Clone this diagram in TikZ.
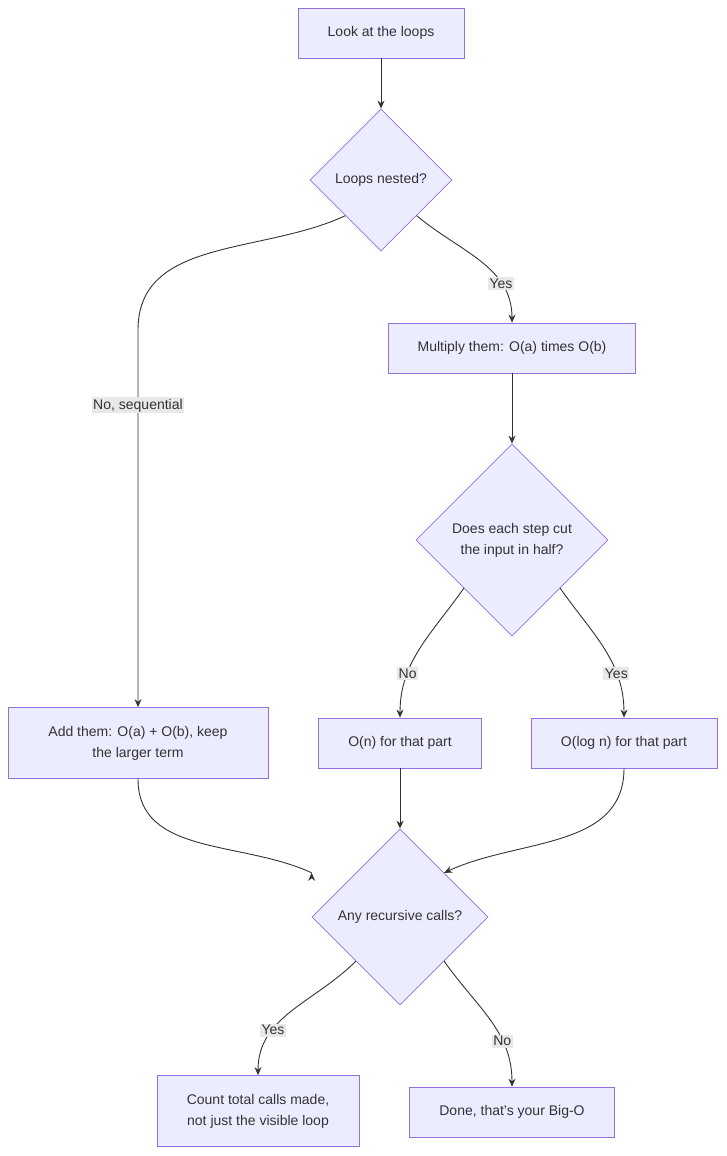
\documentclass[tikz,border=0pt]{standalone}
\usepackage{fontspec}
\setmainfont{Liberation Sans}
\usetikzlibrary{shapes.geometric,arrows.meta}
\definecolor{boxfill}{HTML}{ECECFF}
\definecolor{boxline}{HTML}{9370DB}
\definecolor{txt}{HTML}{333333}
\definecolor{lblbg}{HTML}{E8E8E8}
\tikzset{every picture/.style={line width=0.75pt}}
\tikzset{
  box/.style={draw=boxline,fill=boxfill,text=txt,align=center,inner sep=0pt,font=\fontsize{14}{21}\selectfont},
  dec/.style={draw=boxline,fill=boxfill,text=txt,align=center,diamond,aspect=1,inner sep=0pt,font=\fontsize{14}{21}\selectfont},
  arr/.style={draw=txt,line width=0.9pt,-{Stealth[length=8pt,width=7pt]}},
  lbl/.style={fill=lblbg,text=txt,inner sep=1.5pt,font=\fontsize{14}{16}\selectfont}
}
\begin{document}
\begin{tikzpicture}[x=1pt,y=-1pt]
	\useasboundingbox (0,0) rectangle (726,1156);

	% boxes
	\node[box,minimum width=166,minimum height=50] (look) at (381,33) {Look at the loops};
	\node[dec,minimum width=142,minimum height=142] (nested) at (381,180) {Loops nested?};
	\node[box,minimum width=247,minimum height=50] (mult) at (512,348) {Multiply them: O(a) times O(b)};
	\node[dec,minimum width=192,minimum height=192] (half) at (512,540) {Does each step cut\\the input in half?};
	\node[box,minimum width=260,minimum height=71] (add) at (138,743) {Add them: O(a) + O(b), keep\\the larger term};
	\node[box,minimum width=163,minimum height=50] (linear) at (400,743) {O(n) for that part};
	\node[box,minimum width=186,minimum height=50] (logn) at (624,743) {O(log n) for that part};
	\node[dec,minimum width=176,minimum height=176] (recur) at (400,917) {Any recursive calls?};
	\node[box,minimum width=202,minimum height=71] (count) at (258,1111) {Count total calls made,\\not just the visible loop};
	\node[box,minimum width=205,minimum height=50] (done) at (512,1112) {Done, that's your Big-O};
	\coordinate (bendA) at (138,330);

	% connectors
	\draw[arr] (look) -- (nested);
	\draw[arr] (nested.south east) to[out=-40,in=90] node[lbl,pos=0.72]{Yes} (mult.north);
	\draw[arr] (nested.south west) to[out=205,in=90] (bendA) -- node[lbl,pos=0.2]{No, sequential} (add.north);
	\draw[arr] (mult) -- (half);
	\draw[arr] (half.south west) to[out=235,in=90] node[lbl,pos=0.7]{No} (linear.north);
	\draw[arr] (half.south east) to[out=-55,in=90] node[lbl,pos=0.7]{Yes} (logn.north);
	\draw[arr] (add.south) to[out=-90,in=155] (recur.west|-recur.north west) ++(0,0);
	\draw[arr] (linear) -- (recur);
	\draw[arr] (logn.south) to[out=-90,in=25] (recur.north east);
	\draw[arr] (recur.south west) to[out=225,in=90] node[lbl,pos=0.68]{Yes} (count.north);
	\draw[arr] (recur.south east) to[out=-55,in=90] node[lbl,pos=0.68]{No} (done.north);
\end{tikzpicture}
\end{document}
